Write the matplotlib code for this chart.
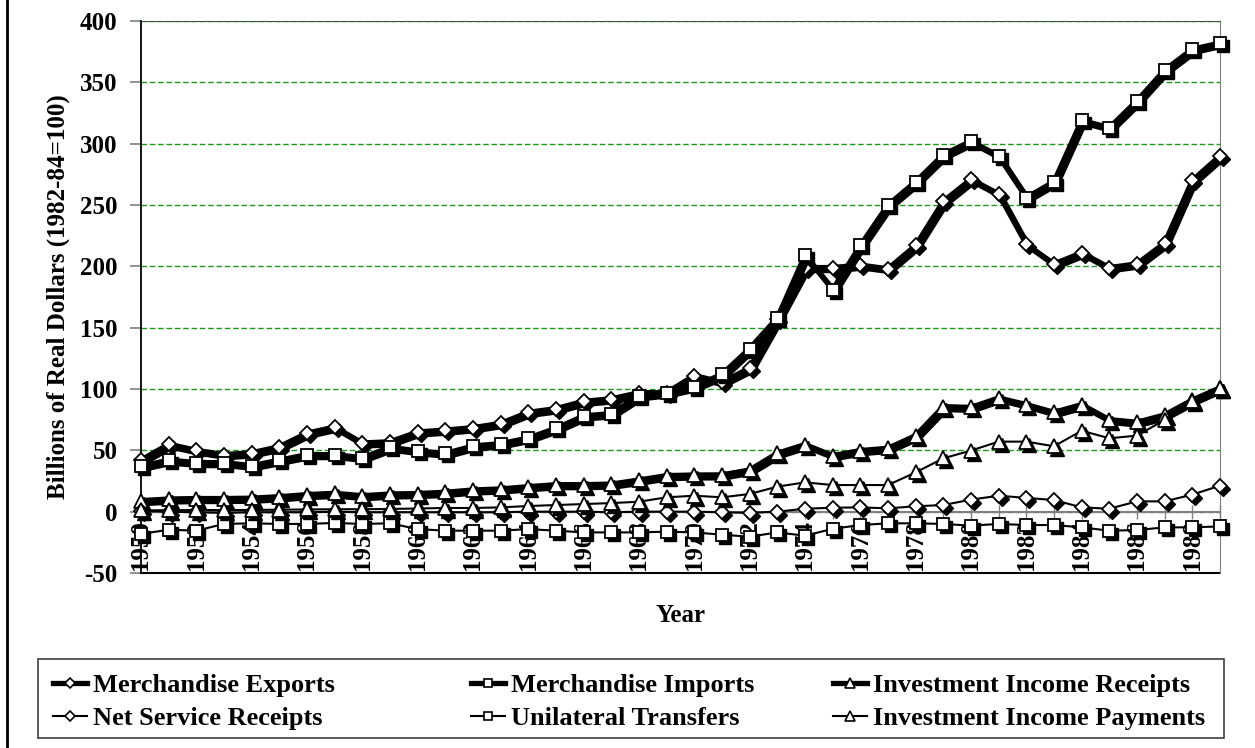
import matplotlib
matplotlib.use('Agg')
import matplotlib.pyplot as plt
import matplotlib.transforms as mtransforms
from matplotlib.lines import Line2D
from matplotlib.patches import Rectangle

# data (billions of 1982-84 dollars)
years = list(range(1950, 1990))
year_labels = [str(y) if y % 2 == 0 else '' for y in years]

exports = [42, 55, 50, 46.5, 48, 53, 64, 69, 56, 57, 65, 66.5, 68.5, 72, 81, 84, 90, 92, 97, 97,
           111, 105.5, 117, 157, 199, 199, 201, 198, 217, 253, 271, 259, 218, 202, 211, 199, 202, 219, 270, 290]
imports = [37, 42, 40, 40, 37.5, 42, 46.5, 46.5, 44, 52.5, 49.5, 47.5, 53.5, 55.5, 60, 68, 78, 80, 94.5, 97,
           102, 112, 133, 158, 209, 181, 217, 250, 269, 291, 302, 290, 256, 269, 319, 313, 335, 360, 377, 382]
inv_receipts = [9, 10.3, 10.7, 10.7, 11, 12.2, 13.9, 15, 13, 14.4, 14.8, 15.8, 17.7, 18.5, 20.4, 22, 22, 22.5, 25.8, 29.4,
                29.9, 30, 34, 47.6, 54.7, 45.7, 49.8, 51.7, 62, 85.6, 85, 92.7, 87.3, 81, 87.3, 75, 72.9, 78.9, 91, 101]
net_services = [0.5, 0, -0.5, -1, -0.5, -0.5, -0.5, 0, -0.5, -0.5, -0.5, -0.5, -0.5, -0.5, 0, 0, 0, -0.5, 0, 0,
                0, -0.5, -1, 0, 2.4, 3.2, 3.5, 2.7, 4.4, 5.4, 9.8, 13, 11.2, 9.5, 3.5, 2.4, 8.4, 8.4, 13.9, 21.2]
transfers = [-18.2, -14.7, -15.5, -10, -9.5, -10, -10, -9.2, -10, -9.5, -14.2, -15.5, -15.5, -15.5, -14.2, -15.5, -16.9, -16.9, -16.9, -16.3,
             -16.9, -18.8, -20.4, -16.9, -19.6, -14, -10.9, -9.5, -9.5, -10, -11.4, -10, -10.9, -10.9, -12.8, -15.5, -15, -12.8, -12.8, -12]
inv_payments = [1, 1.2, 1.3, 1.3, 1.4, 1.6, 1.8, 2, 2, 2.2, 2.6, 3, 3, 3.5, 4.6, 5.4, 6.2, 7, 8.1, 11.7,
                13, 11.7, 14.4, 20.4, 23.9, 21.7, 21.7, 21.7, 32, 43.5, 49.8, 57.1, 57.1, 53.3, 66, 59.8, 62, 74.8, 90, 101]

plt.rcParams['font.family'] = 'Liberation Serif'
plt.rcParams['font.weight'] = 'bold'
plt.rcParams['axes.unicode_minus'] = False

fig = plt.figure(figsize=(12.55, 7.48), dpi=100)
ax = fig.add_axes([141 / 1255, 1 - 573 / 748, 1079 / 1255, 552 / 748])

# category axis crosses at zero (set first, it resets the ticks)
ax.spines['bottom'].set_position(('data', 0))
ax.spines['bottom'].set_color('#808080')
ax.spines['bottom'].set_linewidth(1.5)
ax.spines['top'].set_color('#3c5a3c')
ax.spines['right'].set_color('#808080')
ax.spines['left'].set_color('black')
ax.spines['left'].set_linewidth(1.3)

# (label, values, marker, size, line width)
series = [
    ('Merchandise Exports', exports, 'D', 7, 3.8),
    ('Merchandise Imports', imports, 's', 9, 3.8),
    ('Investment Income Receipts', inv_receipts, '^', 10, 3.8),
    ('Net Service Receipts', net_services, 'D', 7, 1.5),
    ('Unilateral Transfers', transfers, 's', 9, 1.5),
    ('Investment Income Payments', inv_payments, '^', 10, 1.5),
]

shadow = mtransforms.offset_copy(ax.transData, fig=fig, x=3, y=-3, units='dots')
handles = {}
z = 3
for name, vals, mk, ms, lw in series:
    # black drop shadow like the old Excel markers
    ax.plot(years, vals, color='black', lw=lw if lw > 2 else 0, marker=mk, ms=ms,
            mfc='black', mec='black', transform=shadow, zorder=z, clip_on=False)
    h, = ax.plot(years, vals, color='black', lw=lw, marker=mk, ms=ms, mfc='white',
                 mec='black', mew=1.3, zorder=z + 0.5, clip_on=False)
    handles[name] = Line2D([], [], color='black', lw=lw, marker=mk, ms=ms * 0.7,
                           mfc='white', mec='black', mew=1.2)
    z += 1

ax.set_xlim(1950, 1989)
ax.set_ylim(-50, 400)
ax.set_yticks(range(-50, 401, 50))
ax.set_xticks(years)
ax.set_xticklabels(year_labels)

ax.yaxis.grid(True, color='#1a9a1a', linestyle=(0, (4, 2)), lw=1)
ax.set_axisbelow(True)
ax.axhline(-50, color='black', lw=1.5, zorder=2, clip_on=False)

ax.tick_params(axis='x', direction='inout', length=10, color='#808080', width=1, pad=1,
               labelsize=18, labelrotation=90)
ax.tick_params(axis='y', direction='out', length=8, color='#808080', width=1.2,
               labelsize=18, pad=9)

fig.text(58 / 1255, 1 - 297 / 748, 'Billions of Real Dollars (1982-84=100)', rotation=90,
         ha='center', va='center', fontsize=18, fontweight='bold')
fig.text(680 / 1255, 1 - 616 / 748, 'Year', ha='center', va='center', fontsize=18, fontweight='bold')

# legend: one framed box, three columns placed like the original
fig.add_artist(Rectangle((38 / 1255, 1 - 738 / 748), 1186 / 1255, 79 / 748, transform=fig.transFigure,
                         facecolor='white', edgecolor='#404040', lw=1.2))
columns = [['Merchandise Exports', 'Net Service Receipts'],
           ['Merchandise Imports', 'Unilateral Transfers'],
           ['Investment Income Receipts', 'Investment Income Payments']]
col_x = [53, 471, 833]
for names, x in zip(columns, col_x):
    leg = fig.legend([handles[n] for n in names], names, loc='center left',
                     bbox_to_anchor=(x / 1255, 1 - 702 / 748), frameon=False,
                     prop={'size': 19, 'weight': 'bold'}, borderpad=0, borderaxespad=0,
                     handlelength=1.3, handletextpad=0.2, labelspacing=0.38)

# outer chart border, only the left edge is visible in the original
fig.add_artist(Line2D([7 / 1255, 7 / 1255], [0, 1], color='black', lw=2, transform=fig.transFigure))

fig.savefig('out.png', dpi=100)
